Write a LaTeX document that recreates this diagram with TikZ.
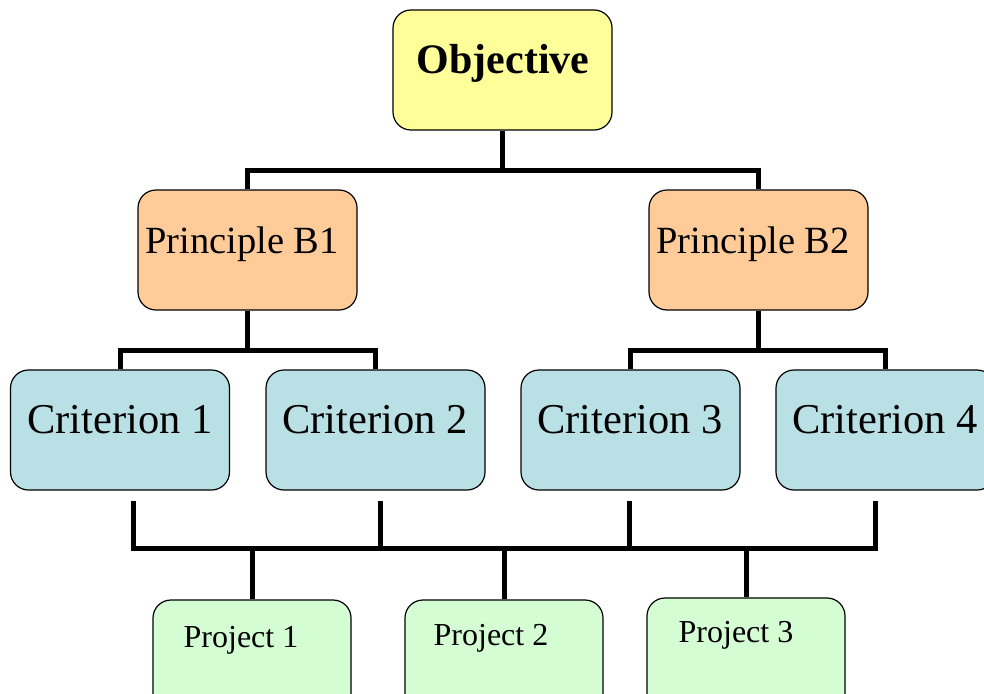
\documentclass[tikz,border=0pt]{standalone}
\usepackage{fontspec}
\setmainfont{Liberation Serif}
\definecolor{objfill}{HTML}{FFFF99}
\definecolor{prinfill}{HTML}{FFCC99}
\definecolor{critfill}{HTML}{B9E0E4}
\definecolor{projfill}{HTML}{D4FDD4}
\begin{document}
\begin{tikzpicture}[
  x=1pt, y=-1pt,
  box/.style={draw, line width=1.2pt, rounded corners=18pt, inner sep=0pt,
              minimum width=219pt, minimum height=120pt},
  objbox/.style={box, fill=objfill},
  prinbox/.style={box, fill=prinfill},
  critbox/.style={box, fill=critfill},
  projbox/.style={box, fill=projfill, minimum width=198pt},
  txt/.style={anchor=base, inner sep=0pt},
  wire/.style={line width=5pt}
]
\useasboundingbox (0,0) rectangle (984,693);
\node[objbox]  (obj)    at (502.5,70)  {};
\node[prinbox] (prinB1) at (247.5,250) {};
\node[prinbox] (prinB2) at (758.5,250) {};
\node[critbox] (crit1)  at (120,430)   {};
\node[critbox] (crit2)  at (375.5,430) {};
\node[critbox] (crit3)  at (630.5,430) {};
\node[critbox] (crit4)  at (885.5,430) {};
\node[projbox] (proj1)  at (252,660)   {};
\node[projbox] (proj2)  at (504,660)   {};
\node[projbox] (proj3)  at (746,658)   {};
% texts
\node[txt, font=\fontsize{42}{42}\selectfont\bfseries] (objtxt) at (503,74) {Objective};
\node[txt, font=\fontsize{38.5}{38.5}\selectfont] (prinB1txt) at (242,253) {Principle B1};
\node[txt, font=\fontsize{38.5}{38.5}\selectfont] (prinB2txt) at (753,253) {Principle B2};
\node[txt, font=\fontsize{42.5}{42.5}\selectfont] (crit1txt) at (120,433) {Criterion 1};
\node[txt, font=\fontsize{42.5}{42.5}\selectfont] (crit2txt) at (375,433) {Criterion 2};
\node[txt, font=\fontsize{42.5}{42.5}\selectfont] (crit3txt) at (630,433) {Criterion 3};
\node[txt, font=\fontsize{42.5}{42.5}\selectfont] (crit4txt) at (885,433) {Criterion 4};
\node[txt, font=\fontsize{32}{32}\selectfont] (proj1txt) at (241,647) {Project 1};
\node[txt, font=\fontsize{32}{32}\selectfont] (proj2txt) at (491,645) {Project 2};
\node[txt, font=\fontsize{32}{32}\selectfont] (proj3txt) at (736,642) {Project 3};
% tree
\draw[wire] (obj.south) -- ++(0,40) -| (prinB1.north);
\draw[wire] (obj.south) -- ++(0,40) -| (prinB2.north);
\draw[wire] (prinB1.south) -- ++(0,40) -| (crit1.north);
\draw[wire] (prinB1.south) -- ++(0,40) -| (crit2.north);
\draw[wire] (prinB2.south) -- ++(0,40) -| (crit3.north);
\draw[wire] (prinB2.south) -- ++(0,40) -| (crit4.north);
% bus to projects
\coordinate (c1o) at ([xshift=13pt,yshift=-10pt]crit1.south);
\coordinate (c2o) at ([xshift=4.5pt,yshift=-10pt]crit2.south);
\coordinate (c3o) at ([xshift=-1.5pt,yshift=-10pt]crit3.south);
\coordinate (c4o) at ([xshift=-10.5pt,yshift=-10pt]crit4.south);
\coordinate (bus) at (504,548);
\draw[wire] (c1o) |- (bus) -| (c4o);
\draw[wire] (c2o) -- (c2o |- bus);
\draw[wire] (c3o) -- (c3o |- bus);
\draw[wire] (proj1.north) -- (proj1.north |- bus);
\draw[wire] (proj2.north) -- (proj2.north |- bus);
\draw[wire] (proj3.north) -- (proj3.north |- bus);
\end{tikzpicture}
\end{document}
